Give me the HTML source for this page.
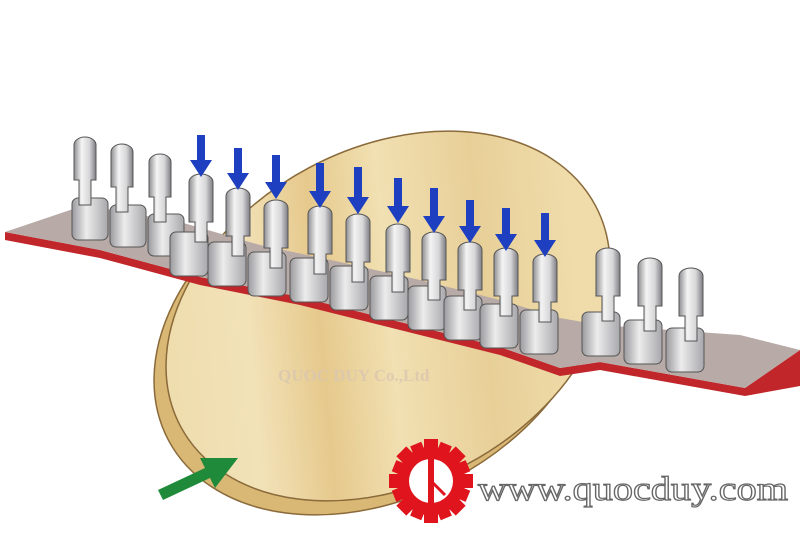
<!DOCTYPE html>
<html><head><meta charset="utf-8"><style>
html,body{margin:0;padding:0;background:#fff;width:800px;height:533px;overflow:hidden}
svg{display:block}
</style></head><body>
<svg width="800" height="533" viewBox="0 0 800 533" xmlns="http://www.w3.org/2000/svg">
<defs>
<linearGradient id="wood" x1="0" y1="0" x2="1" y2="0.3">
<stop offset="0" stop-color="#ecd9a6"/><stop offset="0.3" stop-color="#f2e2b8"/><stop offset="0.45" stop-color="#e6c98c"/><stop offset="0.6" stop-color="#f1e0b2"/><stop offset="0.8" stop-color="#e8cf98"/><stop offset="1" stop-color="#efdcaa"/></linearGradient>
<linearGradient id="pin" x1="0" y1="0" x2="1" y2="0">
<stop offset="0" stop-color="#8e8e92"/><stop offset="0.35" stop-color="#f4f4f4"/><stop offset="0.7" stop-color="#d6d6d8"/><stop offset="1" stop-color="#7d7d82"/></linearGradient>
<linearGradient id="blk" x1="0" y1="0" x2="1" y2="0">
<stop offset="0" stop-color="#9a9a9e"/><stop offset="0.4" stop-color="#ececec"/><stop offset="1" stop-color="#a8a8ac"/></linearGradient>
</defs>
<rect width="800" height="533" fill="#fff"/>
<!-- wood disc edge -->
<ellipse cx="376" cy="330" rx="235" ry="168" transform="rotate(-28 376 330)" fill="#d9b774" stroke="#8a6a3a" stroke-width="1.5"/>
<ellipse cx="388" cy="316" rx="235" ry="168" transform="rotate(-28 388 316)" fill="url(#wood)" stroke="#8a6a3a" stroke-width="1.5"/>
<!-- strip -->
<path d="M5,240 L100,258 L200,285 L300,305 L400,330 L500,355 L560,376 L600,370 L745,396 L800,386 L800,350 L745,388 L600,362 L560,368 L500,347 L400,322 L300,297 L200,277 L100,250 L5,232 Z" fill="#c0262a"/>
<path d="M5,232 L100,250 L200,277 L300,297 L400,322 L500,347 L560,368 L600,362 L745,388 L800,350 L740,335 L600,325 L560,318 L500,300 L420,280 L340,262 L260,245 L180,222 L85,205 Z" fill="#b8aaa6"/>
<!-- pins -->
<g stroke="#555" stroke-width="1">
<g fill="url(#blk)">
<rect x="72" y="198" width="36" height="42" rx="6"/>
<rect x="110" y="205" width="36" height="42" rx="6"/>
<rect x="148" y="214" width="36" height="42" rx="6"/>
<rect x="170" y="232" width="38" height="44" rx="6"/>
<rect x="208" y="242" width="38" height="44" rx="6"/>
<rect x="248" y="252" width="38" height="44" rx="6"/>
<rect x="290" y="258" width="38" height="44" rx="6"/>
<rect x="330" y="266" width="38" height="44" rx="6"/>
<rect x="370" y="276" width="38" height="44" rx="6"/>
<rect x="408" y="286" width="38" height="44" rx="6"/>
<rect x="444" y="296" width="38" height="44" rx="6"/>
<rect x="480" y="304" width="38" height="44" rx="6"/>
<rect x="520" y="310" width="38" height="44" rx="6"/>
<rect x="582" y="312" width="38" height="44" rx="6"/>
<rect x="624" y="320" width="38" height="44" rx="6"/>
<rect x="666" y="328" width="38" height="44" rx="6"/>
</g>
<g fill="url(#pin)">
<path d="M74,145 a11,8 0 0 1 22,0 v35 h-5 v25 h-12 v-25 h-5 z"/>
<path d="M111,152 a11,8 0 0 1 22,0 v35 h-5 v25 h-12 v-25 h-5 z"/>
<path d="M149,162 a11,8 0 0 1 22,0 v35 h-5 v25 h-12 v-25 h-5 z"/>
<path d="M189,182 a12,8 0 0 1 24,0 v40 h-6 v20 h-12 v-20 h-6 z"/>
<path d="M226,196 a12,8 0 0 1 24,0 v40 h-6 v20 h-12 v-20 h-6 z"/>
<path d="M264,208 a12,8 0 0 1 24,0 v40 h-6 v20 h-12 v-20 h-6 z"/>
<path d="M308,214 a12,8 0 0 1 24,0 v40 h-6 v20 h-12 v-20 h-6 z"/>
<path d="M346,222 a12,8 0 0 1 24,0 v40 h-6 v20 h-12 v-20 h-6 z"/>
<path d="M386,232 a12,8 0 0 1 24,0 v40 h-6 v20 h-12 v-20 h-6 z"/>
<path d="M422,240 a12,8 0 0 1 24,0 v40 h-6 v20 h-12 v-20 h-6 z"/>
<path d="M458,250 a12,8 0 0 1 24,0 v40 h-6 v20 h-12 v-20 h-6 z"/>
<path d="M494,256 a12,8 0 0 1 24,0 v40 h-6 v20 h-12 v-20 h-6 z"/>
<path d="M533,262 a12,8 0 0 1 24,0 v40 h-6 v20 h-12 v-20 h-6 z"/>
<path d="M596,256 a12,8 0 0 1 24,0 v40 h-6 v25 h-12 v-25 h-6 z"/>
<path d="M638,266 a12,8 0 0 1 24,0 v40 h-6 v25 h-12 v-25 h-6 z"/>
<path d="M679,276 a12,8 0 0 1 24,0 v40 h-6 v25 h-12 v-25 h-6 z"/>
</g>
</g>
<!-- blue arrows -->
<g fill="#1e3fbf">
<path d="M197,135 h8 v25 h7 l-11,17 l-11,-17 h7 z"/>
<path d="M234,148 h8 v25 h7 l-11,17 l-11,-17 h7 z"/>
<path d="M272,155 h8 v27 h7 l-11,17 l-11,-17 h7 z"/>
<path d="M316,163 h8 v28 h7 l-11,17 l-11,-17 h7 z"/>
<path d="M354,167 h8 v30 h7 l-11,17 l-11,-17 h7 z"/>
<path d="M394,178 h8 v28 h7 l-11,17 l-11,-17 h7 z"/>
<path d="M430,188 h8 v28 h7 l-11,17 l-11,-17 h7 z"/>
<path d="M466,200 h8 v26 h7 l-11,17 l-11,-17 h7 z"/>
<path d="M502,208 h8 v26 h7 l-11,17 l-11,-17 h7 z"/>
<path d="M541,213 h8 v27 h7 l-11,17 l-11,-17 h7 z"/>
</g>
<!-- green arrow -->
<path d="M158,490 L205,468 L200,458 L238,458 L215,488 L210,478 L163,500 Z" fill="#1f8a3a"/>
<!-- watermark -->
<text x="278" y="381" font-family="Liberation Serif,serif" font-weight="bold" font-size="17" fill="#d9c7b0" opacity="0.8">QUOC DUY Co.,Ltd</text>
<!-- logo -->
<g transform="translate(431,481)">
<circle r="34" fill="#e0141c"/>
<g fill="#e0141c">
<rect x="-7" y="-42" width="14" height="12"/><rect x="-7" y="30" width="14" height="12"/>
<rect x="-42" y="-7" width="12" height="14"/><rect x="30" y="-7" width="12" height="14"/>
<g transform="rotate(45)"><rect x="-7" y="-42" width="14" height="12"/><rect x="-7" y="30" width="14" height="12"/><rect x="-42" y="-7" width="12" height="14"/><rect x="30" y="-7" width="12" height="14"/></g>
<g transform="rotate(22.5)"><rect x="-6" y="-40" width="12" height="10"/><rect x="-6" y="30" width="12" height="10"/><rect x="-40" y="-6" width="10" height="12"/><rect x="30" y="-6" width="10" height="12"/></g>
<g transform="rotate(67.5)"><rect x="-6" y="-40" width="12" height="10"/><rect x="-6" y="30" width="12" height="10"/><rect x="-40" y="-6" width="10" height="12"/><rect x="30" y="-6" width="10" height="12"/></g>
</g>
<circle r="22" fill="#fff"/>
<rect x="-3" y="-24" width="6" height="48" fill="#e0141c"/>
<line x1="0" y1="0" x2="14" y2="14" stroke="#e0141c" stroke-width="3"/>
</g>
<text x="478" y="500" font-family="Liberation Serif,serif" font-size="34" textLength="310" lengthAdjust="spacingAndGlyphs" fill="#fff" stroke="#666" stroke-width="1.2">www.quocduy.com</text>
</svg>
</body></html>
